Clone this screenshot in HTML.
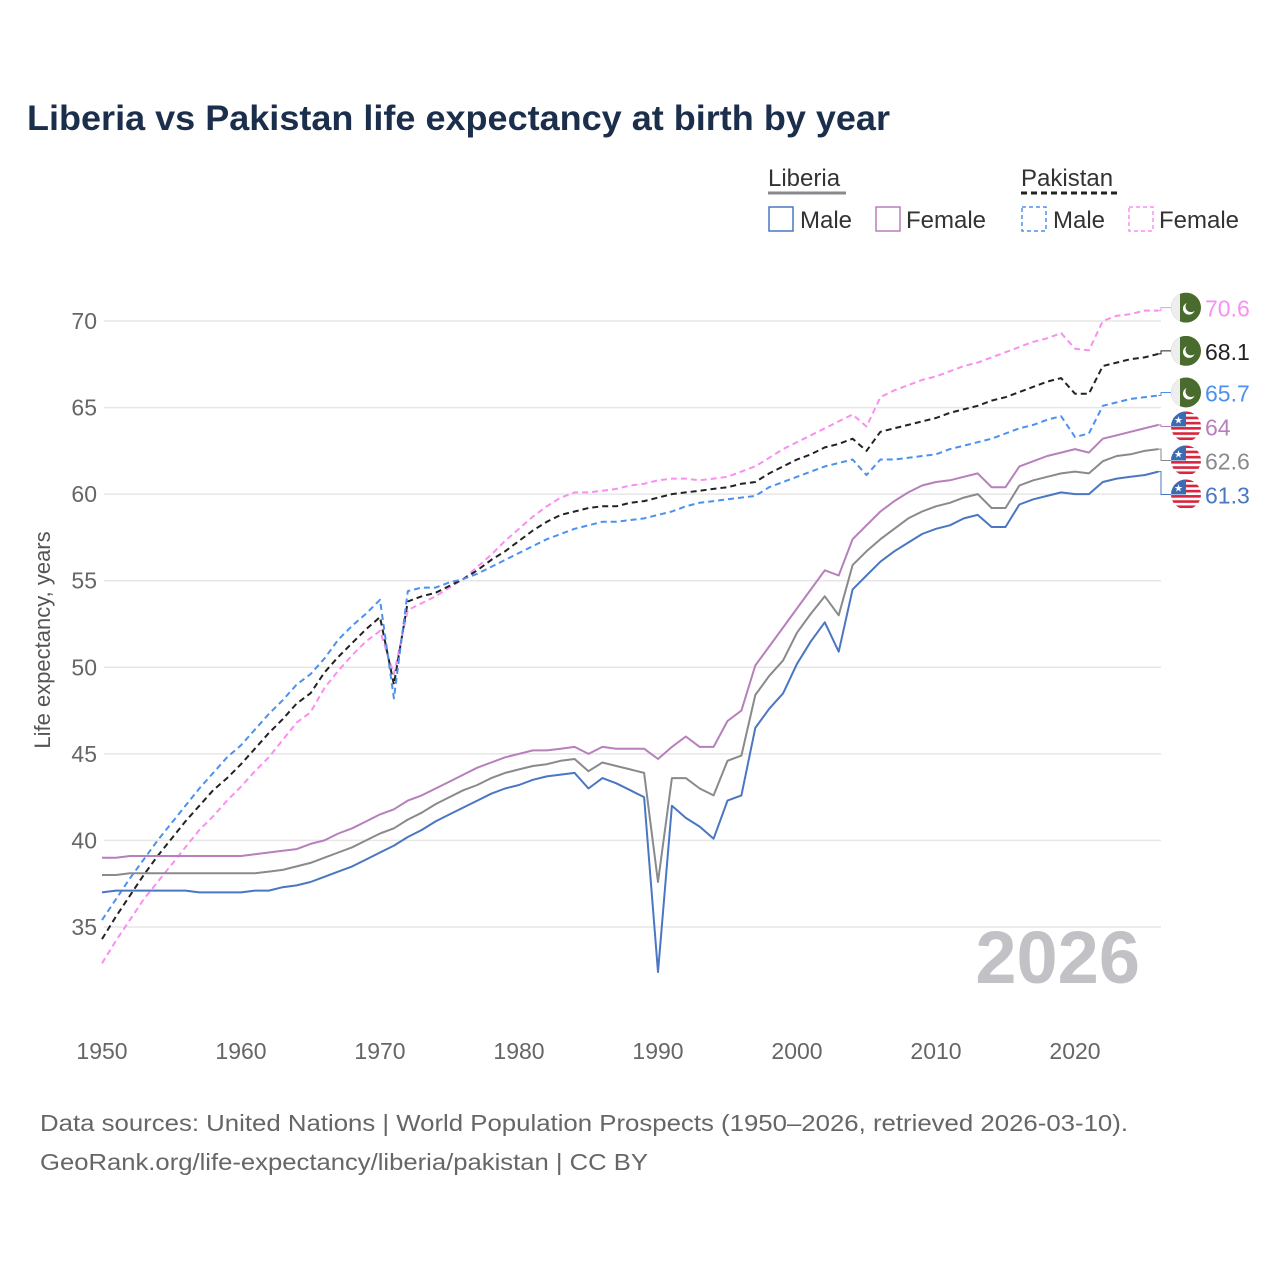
<!DOCTYPE html>
<html><head><meta charset="utf-8"><style>
body{margin:0;background:#fff;font-family:"Liberation Sans",sans-serif}
svg text{font-family:"Liberation Sans",sans-serif}
</style></head><body>
<svg id="chart" width="1280" height="1280" xmlns="http://www.w3.org/2000/svg">
<defs><clipPath id="circ"><circle r="15"/></clipPath></defs>
<rect width="1280" height="1280" fill="#fff"/>
<text x="27" y="130" font-size="35" font-weight="bold" fill="#1b2f4c" textLength="863" lengthAdjust="spacingAndGlyphs">Liberia vs Pakistan life expectancy at birth by year</text>
<g font-size="24" fill="#333">
<text x="768" y="186" fill="#333">Liberia</text>
<line x1="768" y1="193" x2="846" y2="193" stroke="#8a8a8e" stroke-width="3"/>
<text x="1021" y="186" fill="#333">Pakistan</text>
<line x1="1021" y1="193" x2="1118" y2="193" stroke="#222" stroke-width="3" stroke-dasharray="6,4"/>
<g><rect x="769" y="207" width="24" height="24" fill="none" stroke="#4a76c2" stroke-width="1.5"/><text x="800" y="228">Male</text></g>
<g><rect x="876" y="207" width="24" height="24" fill="none" stroke="#b77fbb" stroke-width="1.5"/><text x="906" y="228">Female</text></g>
<g><rect x="1022" y="207" width="24" height="24" fill="none" stroke="#4c90f0" stroke-width="1.5" stroke-dasharray="4,3"/><text x="1053" y="228">Male</text></g>
<g><rect x="1129" y="207" width="24" height="24" fill="none" stroke="#f98ff0" stroke-width="1.5" stroke-dasharray="4,3"/><text x="1159" y="228">Female</text></g>
</g>
<text transform="translate(50,640) rotate(-90)" text-anchor="middle" font-size="22" fill="#555">Life expectancy, years</text>
<text x="1140" y="983" text-anchor="end" font-size="74" font-weight="bold" fill="#c2c1c6">2026</text>
<g id="grid"></g><g id="lines"></g><g id="labels"></g>
<text x="40" y="1131" font-size="23" fill="#666" textLength="1088" lengthAdjust="spacingAndGlyphs">Data sources: United Nations | World Population Prospects (1950–2026, retrieved 2026-03-10).</text>
<text x="40" y="1170" font-size="23" fill="#666" textLength="608" lengthAdjust="spacingAndGlyphs">GeoRank.org/life-expectancy/liberia/pakistan | CC BY</text>
</svg>
<script>
const startYear = 1950;
const xTicks = [1950,1960,1970,1980,1990,2000,2010,2020];
const yTicks = [35,40,45,50,55,60,65,70];
const liberiaMale = [37.0,37.1,37.1,37.1,37.1,37.1,37.1,37.0,37.0,37.0,37.0,37.1,37.1,37.3,37.4,37.6,37.9,38.2,38.5,38.9,39.3,39.7,40.2,40.6,41.1,41.5,41.9,42.3,42.7,43.0,43.2,43.5,43.7,43.8,43.9,43.0,43.6,43.3,42.9,42.5,32.4,42.0,41.3,40.8,40.1,42.3,42.6,46.5,47.6,48.5,50.2,51.5,52.6,50.9,54.5,55.3,56.1,56.7,57.2,57.7,58.0,58.2,58.6,58.8,58.1,58.1,59.4,59.7,59.9,60.1,60.0,60.0,60.7,60.9,61.0,61.1,61.3];
const liberiaTotal = [38.0,38.0,38.1,38.1,38.1,38.1,38.1,38.1,38.1,38.1,38.1,38.1,38.2,38.3,38.5,38.7,39.0,39.3,39.6,40.0,40.4,40.7,41.2,41.6,42.1,42.5,42.9,43.2,43.6,43.9,44.1,44.3,44.4,44.6,44.7,44.0,44.5,44.3,44.1,43.9,37.6,43.6,43.6,43.0,42.6,44.6,44.9,48.4,49.5,50.4,52.0,53.1,54.1,53.0,55.9,56.7,57.4,58.0,58.6,59.0,59.3,59.5,59.8,60.0,59.2,59.2,60.5,60.8,61.0,61.2,61.3,61.2,61.9,62.2,62.3,62.5,62.6];
const liberiaFemale = [39.0,39.0,39.1,39.1,39.1,39.1,39.1,39.1,39.1,39.1,39.1,39.2,39.3,39.4,39.5,39.8,40.0,40.4,40.7,41.1,41.5,41.8,42.3,42.6,43.0,43.4,43.8,44.2,44.5,44.8,45.0,45.2,45.2,45.3,45.4,45.0,45.4,45.3,45.3,45.3,44.7,45.4,46.0,45.4,45.4,46.9,47.5,50.1,51.2,52.3,53.4,54.5,55.6,55.3,57.4,58.2,59.0,59.6,60.1,60.5,60.7,60.8,61.0,61.2,60.4,60.4,61.6,61.9,62.2,62.4,62.6,62.4,63.2,63.4,63.6,63.8,64.0];
const pakistanMale = [35.4,36.6,37.8,38.9,40.0,41.0,42.0,43.0,43.9,44.8,45.5,46.4,47.3,48.1,49.0,49.6,50.5,51.6,52.4,53.1,53.9,48.2,54.4,54.6,54.6,54.9,55.1,55.4,55.8,56.2,56.6,57.0,57.4,57.7,58.0,58.2,58.4,58.4,58.5,58.6,58.8,59.0,59.3,59.5,59.6,59.7,59.8,59.9,60.4,60.7,61.0,61.3,61.6,61.8,62.0,61.1,62.0,62.0,62.1,62.2,62.3,62.6,62.8,63.0,63.2,63.5,63.8,64.0,64.3,64.5,63.3,63.5,65.1,65.3,65.5,65.6,65.7];
const pakistanTotal = [34.3,35.6,36.8,38.0,39.1,40.1,41.1,42.0,42.9,43.6,44.4,45.3,46.2,47.0,47.9,48.5,49.7,50.6,51.4,52.2,52.9,49.0,53.8,54.1,54.3,54.7,55.1,55.6,56.2,56.7,57.3,57.9,58.4,58.8,59.0,59.2,59.3,59.3,59.5,59.6,59.8,60.0,60.1,60.2,60.3,60.4,60.6,60.7,61.2,61.6,62.0,62.3,62.7,62.9,63.2,62.5,63.6,63.8,64.0,64.2,64.4,64.7,64.9,65.1,65.4,65.6,65.9,66.2,66.5,66.7,65.8,65.8,67.4,67.6,67.8,67.9,68.1];
const pakistanFemale = [32.9,34.2,35.4,36.6,37.6,38.6,39.6,40.6,41.4,42.3,43.1,44.0,44.8,45.8,46.8,47.4,48.8,49.8,50.7,51.5,52.1,49.6,53.3,53.7,54.1,54.6,55.1,55.8,56.5,57.3,58.0,58.7,59.3,59.8,60.1,60.1,60.2,60.3,60.5,60.6,60.8,60.9,60.9,60.8,60.9,61.0,61.3,61.6,62.1,62.6,63.0,63.4,63.8,64.2,64.6,63.9,65.6,66.0,66.3,66.6,66.8,67.1,67.4,67.6,67.9,68.2,68.5,68.8,69.0,69.3,68.4,68.3,70.0,70.3,70.4,70.6,70.6];
const endLabels = ["70.6","68.1","65.7","64","62.6","61.3"];

const NS="http://www.w3.org/2000/svg";
const xs = yr => 102 + (yr-1950)*13.9;
const ys = v => 321 + (70-v)*17.314;
function mk(tag,attrs,parent){const e=document.createElementNS(NS,tag);for(const k in attrs)e.setAttribute(k,attrs[k]);parent.appendChild(e);return e;}
const grid=document.getElementById('grid');
yTicks.forEach(t=>{
  const l=mk('line',{x1:104,x2:1161,y1:ys(t),y2:ys(t),stroke:'#e6e6e6','stroke-width':1.5},grid);
  
  
  const tx=mk('text',{x:97,y:ys(t)+8,'text-anchor':'end','font-size':23,fill:'#666'},grid);
  tx.textContent=t;
  
  
});
xTicks.forEach(t=>{
  const tx=mk('text',{x:xs(t),y:1059,'text-anchor':'middle','font-size':23,fill:'#666'},grid);
  tx.textContent=t;
  
  
});
const series=[
 {d:pakistanFemale,c:'#f98ff0',dash:'6,4',n:'pakistan-female',flag:'pk',lc:'#f98ff0'},
 {d:pakistanTotal,c:'#222',dash:'6,4',n:'pakistan-total',flag:'pk',lc:'#222'},
 {d:pakistanMale,c:'#4c90f0',dash:'6,4',n:'pakistan-male',flag:'pk',lc:'#4c90f0'},
 {d:liberiaFemale,c:'#b77fbb',dash:null,n:'liberia-female',flag:'lr',lc:'#b77fbb'},
 {d:liberiaTotal,c:'#8a8a8e',dash:null,n:'liberia-total',flag:'lr',lc:'#8a8a8e'},
 {d:liberiaMale,c:'#4a76c2',dash:null,n:'liberia-male',flag:'lr',lc:'#4a76c2'}
];
const lines=document.getElementById('lines'), labels=document.getElementById('labels');
let prevY=-1e9;
series.forEach((s,i)=>{
  const pts=s.d.map((v,j)=>xs(startYear+j).toFixed(1)+','+ys(v).toFixed(1)).join(' ');
  const a={points:pts,fill:'none',stroke:s.c,'stroke-width':2,'stroke-linejoin':'round'};
  if(s.dash)a['stroke-dasharray']=s.dash;
  const p=mk('polyline',a,lines);
  
  
  const last=s.d[s.d.length-1];
  let y=Math.max(ys(last)-3,prevY+34); prevY=y;
  const g=mk('g',{transform:`translate(1186,${y})`},labels);
  
  
  mk('polyline',{points:`${xs(2026)-1186},${ys(last)-y} -25,${ys(last)-y} -25,0 -15,0`,fill:'none',stroke:s.c,'stroke-width':1},g);
  if(s.flag==='pk'){
    const cg=mk('g',{'clip-path':'url(#circ)'},g);
    mk('rect',{x:-15,y:-15,width:30,height:30,fill:'#4a6b2e'},cg);
    mk('rect',{x:-15,y:-15,width:9,height:30,fill:'#eee'},cg);
    mk('circle',{cx:3,cy:1,r:6,fill:'#fff'},cg);
    mk('circle',{cx:5,cy:-1,r:5.5,fill:'#4a6b2e'},cg);
  } else {
    const cg=mk('g',{'clip-path':'url(#circ)'},g);
    mk('rect',{x:-15,y:-15,width:30,height:30,fill:'#fff'},cg);
    for(let k=0;k<6;k++) mk('rect',{x:-15,y:-15+k*5.2,width:30,height:2.6,fill:'#d7263d'},cg);
    mk('rect',{x:-15,y:-15,width:15,height:15,fill:'#3d6bb3'},cg);
    mk('text',{x:-7.5,y:-3,'text-anchor':'middle','font-size':10,fill:'#fff'},cg).textContent='★';
  }
  const t=mk('text',{x:19,y:9,'font-size':23,fill:s.lc},g);
  t.textContent=endLabels[i];
});
</script>
</body></html>
